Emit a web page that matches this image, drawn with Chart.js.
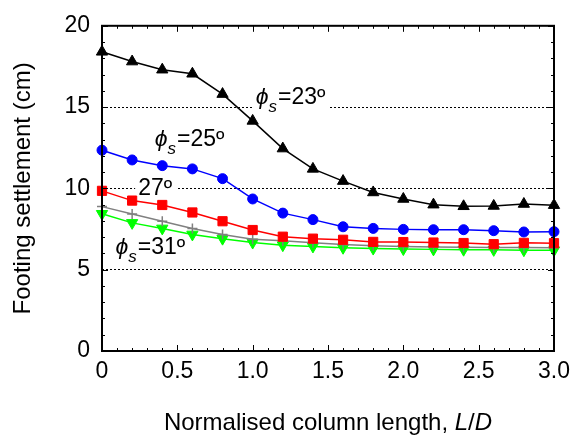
<!DOCTYPE html>
<html><head><meta charset="utf-8">
<script src="https://cdn.jsdelivr.net/npm/chart.js@4/dist/chart.umd.min.js"></script>
<style>html,body{margin:0;padding:0;background:#fff}</style>
</head><body>
<canvas id="c" width="581" height="435"></canvas>
<script>
// ---- data ----
const lengthRatio = [0, 0.2, 0.4, 0.6, 0.8, 1.0, 1.2, 1.4, 1.6, 1.8, 2.0, 2.2, 2.4, 2.6, 2.8, 3.0];
const phi23 = [18.4, 17.8, 17.3, 17.05, 15.8, 14.15, 12.45, 11.2, 10.45, 9.75, 9.35, 9.0, 8.9, 8.92, 9.04, 8.97];
const phi25 = [12.35, 11.75, 11.4, 11.2, 10.6, 9.35, 8.48, 8.08, 7.64, 7.54, 7.48, 7.46, 7.46, 7.4, 7.32, 7.34];
const phi27 = [9.85, 9.25, 8.98, 8.52, 7.98, 7.44, 7.03, 6.91, 6.84, 6.71, 6.7, 6.67, 6.64, 6.57, 6.65, 6.63];
const phi29 = [8.88, 8.42, 7.98, 7.54, 7.17, 6.88, 6.78, 6.65, 6.55, 6.47, 6.42, 6.4, 6.38, 6.37, 6.36, 6.35];
const phi31 = [8.44, 7.88, 7.54, 7.17, 6.91, 6.67, 6.51, 6.43, 6.35, 6.3, 6.27, 6.25, 6.23, 6.22, 6.2, 6.2];
const yTicks = [0, 5, 10, 15, 20];
const xTickLabels = ['0', '0.5', '1.0', '1.5', '2.0', '2.5', '3.0'];
const xTitleParts = [['Normalised column length, ', 'normal'], ['L', 'italic'], ['/', 'normal'], ['D', 'italic']];
const yTitle = 'Footing settlement (cm)';
const annoLabels = [
  { x: 1.02, y: 15.18, parts: [['ϕ', 'italic', 1], ['s', 'italic', 0], ['=23º', 'normal', 1]] },
  { x: 0.35, y: 12.58, parts: [['ϕ', 'italic', 1], ['s', 'italic', 0], ['=25º', 'normal', 1]] },
  { x: 0.24, y: 9.57,  parts: [['27º', 'normal', 1]] },
  { x: 0.09, y: 5.95,  parts: [['ϕ', 'italic', 1], ['s', 'italic', 0], ['=31º', 'normal', 1]] }
];

const FONT = '"Liberation Sans", Arial, sans-serif';
const pts = arr => arr.map((v, i) => ({ x: lengthRatio[i], y: v }));

function partFont(style, main) {
  return style + ' ' + (main ? 23 : 17) + 'px ' + FONT;
}
function annoLayout(ctx, a, chart) {
  const xs = chart.scales.x, ys = chart.scales.y;
  let x = xs.getPixelForValue(a.x);
  const y = ys.getPixelForValue(a.y);
  const items = [];
  for (const [t, st, main] of a.parts) {
    ctx.font = partFont(st, main);
    const w = ctx.measureText(t).width;
    items.push({ t, font: ctx.font, x, y: main ? y : y + 8 });
    x += w + (st === 'italic' && main ? 0 : 1);
  }
  return { items, x0: xs.getPixelForValue(a.x), x1: x, y };
}

const decor = {
  id: 'decor',
  beforeDatasetsDraw(chart) {
    const ctx = chart.ctx;
    ctx.save();
    ctx.fillStyle = '#fff';
    for (const a of annoLabels) {
      const L = annoLayout(ctx, a, chart);
      ctx.fillRect(L.x0 - 3, L.y - 18, L.x1 - L.x0 + 6, 24);
    }
    ctx.restore();
  },
  afterDatasetsDraw(chart) {
    const ctx = chart.ctx;
    ctx.save();
    ctx.fillStyle = '#000';
    ctx.textBaseline = 'alphabetic';
    ctx.textAlign = 'left';
    for (const a of annoLabels) {
      const L = annoLayout(ctx, a, chart);
      for (const it of L.items) { ctx.font = it.font; ctx.fillText(it.t, it.x, it.y); }
    }
    ctx.restore();
  },
  afterDraw(chart) {
    const ctx = chart.ctx, ca = chart.chartArea;
    const xs = chart.scales.x, ys = chart.scales.y;
    ctx.save();
    ctx.strokeStyle = '#000';
    ctx.lineWidth = 1;
    ctx.beginPath();
    for (let i = 0; i <= 30; i++) {
      const px = Math.round(xs.getPixelForValue(i / 10)) + 0.5;
      const len = i % 5 === 0 ? 6 : 3;
      ctx.moveTo(px, ca.bottom); ctx.lineTo(px, ca.bottom - len);
      ctx.moveTo(px, ca.top); ctx.lineTo(px, ca.top + len);
    }
    for (let v = 0; v <= 20; v++) {
      const py = Math.round(ys.getPixelForValue(v)) + 0.5;
      const len = v % 5 === 0 ? 6 : 3;
      ctx.moveTo(ca.left, py); ctx.lineTo(ca.left + len, py);
      ctx.moveTo(ca.right, py); ctx.lineTo(ca.right - len, py);
    }
    ctx.stroke();
    ctx.lineWidth = 2;
    ctx.strokeRect(ca.left, ca.top, ca.right - ca.left, ca.bottom - ca.top);
    ctx.fillStyle = '#000';
    ctx.textBaseline = 'alphabetic';
    ctx.textAlign = 'left';
    let total = 0;
    const ws = xTitleParts.map(([t, st]) => { ctx.font = st + ' 24px ' + FONT; const w = ctx.measureText(t).width; total += w; return w; });
    let x = (ca.left + ca.right) / 2 - total / 2;
    xTitleParts.forEach(([t, st], i) => { ctx.font = st + ' 24px ' + FONT; ctx.fillText(t, x, 430); x += ws[i]; });
    ctx.translate(23, (ca.top + ca.bottom) / 2);
    ctx.rotate(-Math.PI / 2);
    ctx.textAlign = 'center';
    ctx.textBaseline = 'middle';
    ctx.font = '24px ' + FONT;
    ctx.fillText(yTitle, 0, 0);
    ctx.restore();
  }
};

new Chart(document.getElementById('c'), {
  type: 'line',
  data: {
    datasets: [
      { label: 'ϕs=23º', data: pts(phi23), borderColor: '#000', backgroundColor: '#000', pointStyle: 'triangle', pointRadius: 6.5 },
      { label: 'ϕs=25º', data: pts(phi25), borderColor: '#0000ff', backgroundColor: '#0000ff', pointStyle: 'circle', pointRadius: 5 },
      { label: 'ϕs=27º', data: pts(phi27), borderColor: '#ff0000', backgroundColor: '#ff0000', pointStyle: 'rect', pointRadius: 6.5 },
      { label: 'ϕs=29º', data: pts(phi29), borderColor: '#808080', backgroundColor: '#808080', pointStyle: 'cross', pointRadius: 5, pointBorderWidth: 1.5 },
      { label: 'ϕs=31º', data: pts(phi31), borderColor: '#00ff00', backgroundColor: '#00ff00', pointStyle: 'triangle', pointRotation: 180, pointRadius: 6.5 }
    ]
  },
  options: {
    responsive: false,
    animation: false,
    devicePixelRatio: 1,
    clip: false,
    layout: { padding: { left: 0, right: 27, top: 19, bottom: 0 } },
    elements: { line: { borderWidth: 1.5, tension: 0 }, point: { borderWidth: 1, hoverRadius: 6 } },
    plugins: { legend: { display: false }, tooltip: { enabled: false } },
    scales: {
      x: {
        type: 'linear', min: 0, max: 3,
        afterFit: s => { s.height = 84; },
        afterBuildTicks: s => { s.ticks = xTickLabels.map(t => ({ value: parseFloat(t) })); },
        ticks: { font: { size: 23, family: FONT }, color: '#000', padding: 7, maxRotation: 0,
                 callback: (v, i) => xTickLabels[i] },
        grid: { display: false, drawTicks: false },
        border: { display: false }
      },
      y: {
        min: 0, max: 20,
        afterFit: s => { s.width = 102; },
        afterBuildTicks: s => { s.ticks = yTicks.map(v => ({ value: v })); },
        ticks: { font: { size: 23, family: FONT }, color: '#000', padding: 12 },
        grid: { drawTicks: false, lineWidth: 1,
                color: c => (c.tick && (c.tick.value === 0 || c.tick.value === 20)) ? 'rgba(0,0,0,0)' : '#000' },
        border: { display: false, dash: [2, 2] }
      }
    }
  },
  plugins: [decor]
});
</script>
</body></html>
